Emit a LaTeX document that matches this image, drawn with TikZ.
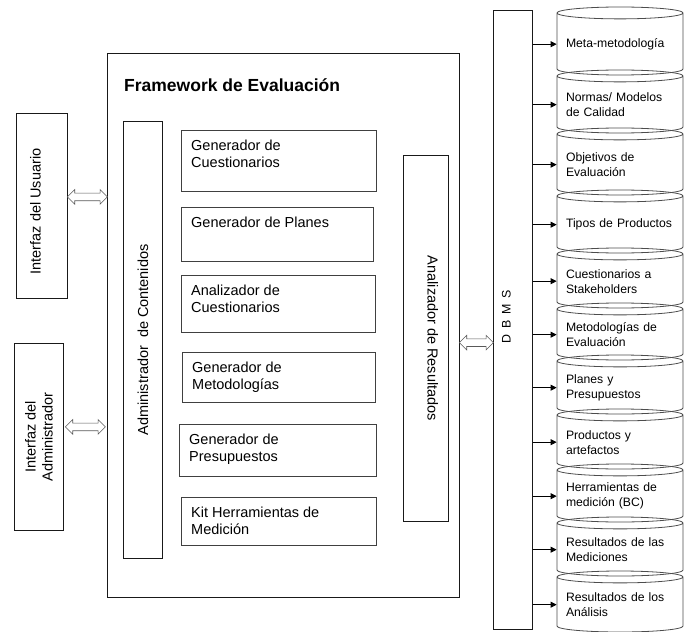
\documentclass[tikz,border=0pt]{standalone}
\usepackage{fontspec}
\setmainfont{Liberation Sans}
\usetikzlibrary{arrows.meta,positioning,calc,shapes.geometric,shapes.arrows}

\begin{document}
\begin{tikzpicture}[x=1pt,y=-1pt,>={Triangle[length=6pt,width=6pt]},
    frame/.style={draw=black!90,line width=0.8pt,anchor=north west,inner sep=0pt},
    modbox/.style={draw=black!75,line width=0.8pt,anchor=north west,inner sep=0pt},
    modtext/.style={anchor=north west,inner sep=0pt,align=left,font=\fontsize{14.5}{17}\selectfont},
    vtext/.style={inner sep=0pt,align=center,font=\fontsize{14.5}{17}\selectfont},
    dbcyl/.style={cylinder,shape border rotate=90,aspect=0.11,draw=black!70,line width=0.8pt,
      minimum width=126pt,text width=108pt,align=left,inner sep=0pt,anchor=shape center,
      font=\fontsize{12.2}{15}\selectfont},
    dblarr/.style={double arrow,draw=black!65,fill=white,line width=0.6pt,inner xsep=0pt,inner ysep=3.5pt,
      double arrow head extend=3.5pt,minimum height=#1}]
    \useasboundingbox (0,0) rectangle (684,631);

    % interfaces
    \node[frame,minimum width=51pt,minimum height=185pt] (usr) at (16,113) {};
    \node[vtext,rotate=90] at ([xshift=-6.5pt,yshift=-5.5pt]usr.center) {Interfaz del Usuario};
    \node[frame,minimum width=49pt,minimum height=187pt] (adm) at (14,343) {};
    \node[vtext,rotate=90] at (adm.center) {Interfaz del\\Administrador};

    % framework
    \node[frame,minimum width=352pt,minimum height=544pt] (fw) at (107,53) {};
    \node[anchor=base west,inner sep=0pt,font=\bfseries\fontsize{17.5}{20}\selectfont] (ttl) at ([shift={(17,39)}]fw.north west) {Framework de Evaluación};

    \node[frame,minimum width=39pt,minimum height=437pt] (adc) at (123,121) {};
    \node[vtext,rotate=90] at (adc.center) {Administrador\ \ de Contenidos};

    \node[modbox,minimum width=195pt,minimum height=61pt] (gcu) at (181,130) {};
    \node[modtext] at ([shift={(10,10)}]gcu.north west) {Generador de\\Cuestionarios};
    \node[modbox,minimum width=192pt,minimum height=54pt] (gpl) at (181,207) {};
    \node[modtext] at ([shift={(10,10)}]gpl.north west) {Generador de Planes};
    \node[modbox,minimum width=194pt,minimum height=57pt] (acu) at (181,275) {};
    \node[modtext] at ([shift={(10,10)}]acu.north west) {Analizador de\\Cuestionarios};
    \node[modbox,minimum width=193pt,minimum height=50pt] (gme) at (182,352) {};
    \node[modtext] at ([shift={(10,10)}]gme.north west) {Generador de\\Metodologías};
    \node[modbox,minimum width=197pt,minimum height=52pt] (gpr) at (179,424) {};
    \node[modtext] at ([shift={(10,10)}]gpr.north west) {Generador de\\Presupuestos};
    \node[modbox,minimum width=195pt,minimum height=48pt] (kit) at (181,497) {};
    \node[modtext] at ([shift={(10,10)}]kit.north west) {Kit Herramientas de\\Medición};

    \node[frame,minimum width=45pt,minimum height=366pt] (ar) at (403,155) {};
    \node[vtext,rotate=-90] at ([xshift=7pt]ar.center) {Analizador de Resultados};

    % DBMS
    \node[frame,minimum width=39pt,minimum height=619pt] (dbms) at (493,10) {};
    \node[inner sep=0pt,font=\fontsize{12.4}{15}\selectfont,rotate=90] at ([xshift=-6.5pt,yshift=3pt]dbms.center) {D\hspace{6pt}B\hspace{6pt}M\hspace{6pt}S};

    \node[dblarr=40pt] (au) at ([yshift=9pt]$(usr.east)!0.5!(fw.west |- usr.east)$) {};
    \node[dblarr=40pt] (aa) at ([yshift=10pt]$(adm.east)!0.5!(fw.west |- adm.east)$) {};
    \node[dblarr=34pt] (ad) at ([yshift=-20pt]$(fw.east)!0.5!(dbms.west)$) {};

    % tables
    \node[dbcyl,minimum height=68pt] (c1) at (620,41) {Meta-metodología};
    \node[dbcyl,minimum height=63pt] (c2) at (620,101.5) {Normas/ Modelos\\de Calidad};
    \node[dbcyl,minimum height=67pt] (c3) at (620,161.5) {Objetivos de\\Evaluación};
    \node[dbcyl,minimum height=63pt] (c4) at (620,221.5) {Tipos de Productos};
    \node[dbcyl,minimum height=60pt] (c5) at (620,278) {Cuestionarios a\\Stakeholders};
    \node[dbcyl,minimum height=57pt] (c6) at (620,331.5) {Metodologías de\\Evaluación};
    \node[dbcyl,minimum height=59pt] (c7) at (620,384.5) {Planes y\\Presupuestos};
    \node[dbcyl,minimum height=60pt] (c8) at (620,439) {Productos y\\artefactos};
    \node[dbcyl,minimum height=58pt] (c9) at (620,493) {Herramientas de\\medición (BC)};
    \node[dbcyl,minimum height=59pt] (c10) at (620,546.5) {Resultados de las\\Mediciones};
    \node[dbcyl,minimum height=61pt] (c11) at (620,601.5) {Resultados de los\\Análisis};

    \draw[->,line width=0.8pt] (dbms.east |- c1.west) -- (c1.west);
    \draw[->,line width=0.8pt] (dbms.east |- c2.west) -- (c2.west);
    \draw[->,line width=0.8pt] (dbms.east |- c3.west) -- (c3.west);
    \draw[->,line width=0.8pt] (dbms.east |- c4.west) -- (c4.west);
    \draw[->,line width=0.8pt] (dbms.east |- c5.west) -- (c5.west);
    \draw[->,line width=0.8pt] (dbms.east |- c6.west) -- (c6.west);
    \draw[->,line width=0.8pt] (dbms.east |- c7.west) -- (c7.west);
    \draw[->,line width=0.8pt] (dbms.east |- c8.west) -- (c8.west);
    \draw[->,line width=0.8pt] (dbms.east |- c9.west) -- (c9.west);
    \draw[->,line width=0.8pt] (dbms.east |- c10.west) -- (c10.west);
    \draw[->,line width=0.8pt] (dbms.east |- c11.west) -- (c11.west);
\end{tikzpicture}
\end{document}
